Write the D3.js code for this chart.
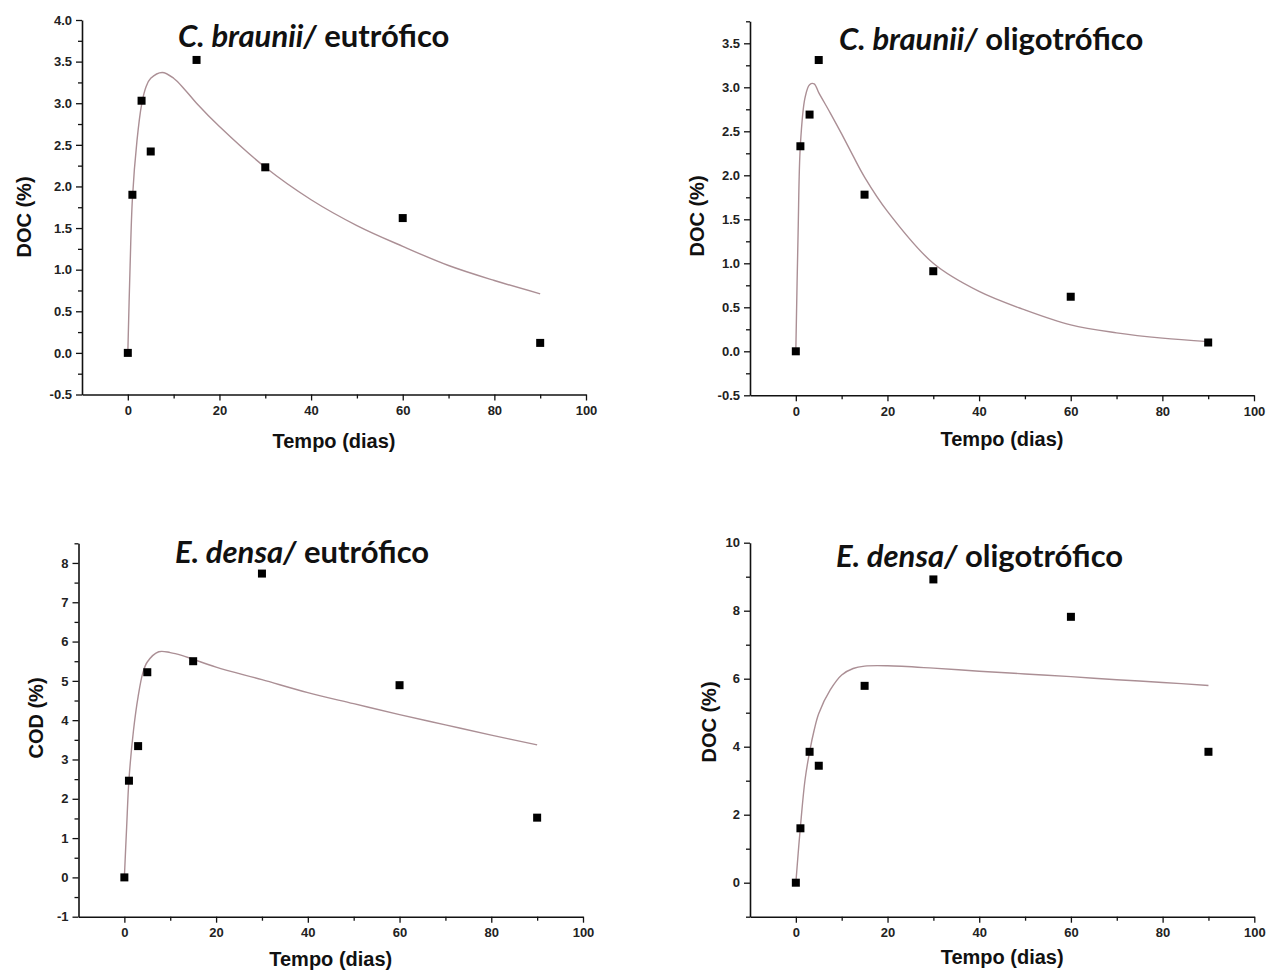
<!DOCTYPE html>
<html>
<head>
<meta charset="utf-8">
<script src="https://cdn.jsdelivr.net/npm/d3@7"></script>
<style>
    body { margin: 0; background: #fff; }
    svg { display: block; }
    .tick text { font-family: Arial, "Liberation Sans", sans-serif; font-weight: bold; font-size: 13px; fill: #222; }
    .axis-title { font-family: Arial, "Liberation Sans", sans-serif; font-weight: bold; font-size: 20px; fill: #111; }
    .panel-title { font-family: Lato, "Open Sans", sans-serif; font-weight: bold; font-size: 31px; fill: #111; }
</style>
</head>
<body>
<div id="chart"></div>
<script>
// sampling days (measured points)
const days = [0, 1, 3, 5, 15, 30, 60, 90];

const docBrauniiEutro = [0.0, 1.90, 3.03, 2.42, 3.52, 2.23, 1.62, 0.12];
const docBrauniiOligo = [0.0, 2.33, 2.69, 3.31, 1.78, 0.91, 0.62, 0.10];
const codDensaEutro   = [0.0, 2.46, 3.34, 5.22, 5.50, 7.73, 4.89, 1.52];
const docDensaOligo   = [0.0, 1.60, 3.85, 3.44, 5.79, 8.92, 7.82, 3.85];

// fitted curves
const fitDays = [0, 0.5, 1, 2, 3, 4, 5, 7.5, 10, 12.5, 15, 20, 30, 40, 50, 60, 70, 80, 90];
const fitBrauniiEutro = [0, 1.05, 1.85, 2.55, 2.98, 3.20, 3.30, 3.37, 3.30, 3.16, 3.00, 2.72, 2.23, 1.84, 1.53, 1.28, 1.05, 0.87, 0.71];
const fitBrauniiOligo = [0, 1.35, 2.35, 2.88, 3.03, 3.04, 2.94, 2.71, 2.47, 2.22, 1.98, 1.59, 1.00, 0.68, 0.47, 0.30, 0.21, 0.15, 0.11];
const fitDensaEutro   = [0, 1.29, 2.48, 3.75, 4.60, 5.19, 5.48, 5.74, 5.72, 5.65, 5.55, 5.35, 5.03, 4.70, 4.42, 4.14, 3.88, 3.62, 3.37];
const fitDensaOligo   = [0, 0.85, 1.65, 3.02, 3.85, 4.49, 4.98, 5.67, 6.11, 6.30, 6.37, 6.38, 6.31, 6.22, 6.14, 6.06, 5.97, 5.89, 5.80];

const xTicks = [0, 20, 40, 60, 80, 100];
const xMinor = [10, 30, 50, 70, 90];

const hyphen = f => d => f(d).replace("\u2212", "-");

const panels = [
    { species: "C. braunii/", state: " eutrófico", yLabel: "DOC (%)",
      points: docBrauniiEutro, fit: fitBrauniiEutro,
      yDomain: [-0.5, 4.0], yTicks: d3.range(-0.5, 4.01, 0.5), yMinor: d3.range(-0.25, 4.0, 0.5), fmt: hyphen(d3.format(".1f")),
      xr: [82, 586], yr: [394.5, 20], title: [178, 47], labelX: 31, labelY: 217, xLabelY: 448 },
    { species: "C. braunii/", state: " oligotrófico", yLabel: "DOC (%)",
      points: docBrauniiOligo, fit: fitBrauniiOligo,
      yDomain: [-0.5, 3.75], yTicks: d3.range(-0.5, 3.51, 0.5), yMinor: d3.range(-0.25, 3.8, 0.5), fmt: hyphen(d3.format(".1f")),
      xr: [750, 1254], yr: [395.3, 21.3], title: [839, 50], labelX: 704, labelY: 216, xLabelY: 446 },
    { species: "E. densa/", state: " eutrófico", yLabel: "COD (%)",
      points: codDensaEutro, fit: fitDensaEutro,
      yDomain: [-1, 8.5], yTicks: d3.range(-1, 8.01, 1), yMinor: d3.range(-0.5, 8.6, 1), fmt: hyphen(d3.format("d")),
      xr: [78.5, 583], yr: [916.7, 543.3], title: [175, 563], labelX: 43, labelY: 718, xLabelY: 966 },
    { species: "E. densa/", state: " oligotrófico", yLabel: "DOC (%)",
      points: docDensaOligo, fit: fitDensaOligo,
      yDomain: [-1, 10], yTicks: d3.range(0, 10.01, 2), yMinor: d3.range(-1, 10, 2), fmt: hyphen(d3.format("d")),
      xr: [750, 1254.3], yr: [916.7, 542.7], title: [836, 567], labelX: 716, labelY: 722, xLabelY: 964 }
];

const width = 1270, height = 974;
const svg = d3.select("#chart").append("svg")
    .attr("width", width)
    .attr("height", height);

panels.forEach(p => {
    const x = d3.scaleLinear().domain([-10, 100]).range(p.xr);
    const y = d3.scaleLinear().domain(p.yDomain).range(p.yr);
    const g = svg.append("g");

    // minor ticks first
    g.append("g")
        .attr("transform", `translate(0,${p.yr[0]})`)
        .call(d3.axisBottom(x).tickValues(xMinor).tickSize(4).tickFormat(""))
        .call(a => a.select(".domain").remove());
    g.append("g")
        .attr("transform", `translate(${p.xr[0]},0)`)
        .call(d3.axisLeft(y).tickValues(p.yMinor).tickSize(4).tickFormat(""))
        .call(a => a.select(".domain").remove());

    g.append("g")
        .attr("transform", `translate(0,${p.yr[0]})`)
        .call(d3.axisBottom(x).tickValues(xTicks).tickSize(6).tickSizeOuter(0).tickPadding(5));
    g.append("g")
        .attr("transform", `translate(${p.xr[0]},0)`)
        .call(d3.axisLeft(y).tickValues(p.yTicks).tickSize(6).tickSizeOuter(0).tickPadding(4).tickFormat(p.fmt));

    g.selectAll(".domain").attr("stroke", "#111").attr("stroke-width", 1.6);
    g.selectAll(".tick line").attr("stroke", "#111").attr("stroke-width", 1.3);

    // fitted curve
    const line = d3.line()
        .x((d, i) => x(fitDays[i]))
        .y(d => y(d))
        .curve(d3.curveCatmullRom.alpha(0.5));
    g.append("path")
        .datum(p.fit)
        .attr("fill", "none")
        .attr("stroke", "#ab8f95")
        .attr("stroke-width", 1.4)
        .attr("d", line);

    // measured points
    g.selectAll(".pt")
        .data(p.points)
        .enter()
        .append("rect")
        .attr("x", (d, i) => x(days[i]) - 4)
        .attr("y", d => y(d) - 4)
        .attr("width", 8)
        .attr("height", 8)
        .attr("fill", "#000");

    // titles and labels
    const t = g.append("text")
        .attr("class", "panel-title")
        .attr("x", p.title[0])
        .attr("y", p.title[1]);
    t.append("tspan").style("font-style", "italic").text(p.species);
    t.append("tspan").text(p.state);

    g.append("text")
        .attr("class", "axis-title")
        .attr("text-anchor", "middle")
        .attr("transform", `translate(${p.labelX},${p.labelY}) rotate(-90)`)
        .text(p.yLabel);

    g.append("text")
        .attr("class", "axis-title")
        .attr("text-anchor", "middle")
        .attr("x", (p.xr[0] + p.xr[1]) / 2)
        .attr("y", p.xLabelY)
        .text("Tempo (dias)");
});
</script>
</body>
</html>
